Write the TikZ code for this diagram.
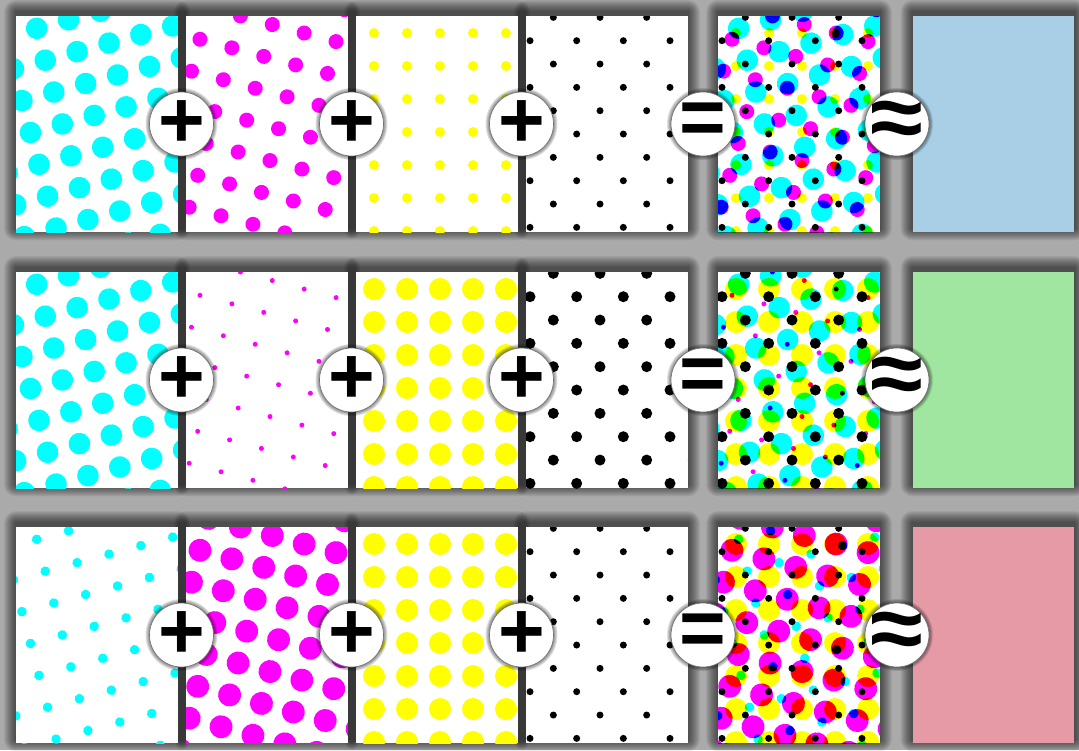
\documentclass[tikz,border=0pt]{standalone}
\usepackage{fontspec}
\newfontfamily\signfont{Liberation Sans}
\usetikzlibrary{positioning}

\pgfdeclarelayer{paper}
\pgfdeclarelayer{shade}
\pgfdeclarelayer{front}
\pgfsetlayers{paper,shade,main,front}

\definecolor{bggray}{HTML}{AAAAAA}
\definecolor{inkC}{HTML}{00FFFF}
\definecolor{inkM}{HTML}{FF00FF}
\definecolor{inkY}{HTML}{FFFF00}
\definecolor{inkK}{HTML}{000000}
\definecolor{toneblue}{HTML}{A8CFE5}
\definecolor{tonegreen}{HTML}{A1E6A0}
\definecolor{tonered}{HTML}{E59AA6}

\tikzset{
    panel/.style = {fill=white, minimum width=161.5pt, minimum height=216pt,
        inner sep=0pt, anchor=north west},
    sign/.style = {circle, fill=white, draw=black!55, line width=0.7pt,
        minimum size=64pt, inner sep=-8pt,
        font=\signfont\bfseries\fontsize{80}{80}\selectfont},
    shadestep/.style = {fill=black, opacity=0.06},
}

% dot screen clipped to a panel: node, angle, x/y offset, radius, colour
\newcommand{\screen}[6]{%
    \begin{scope}
        \clip (#1.north west) rectangle (#1.south east);
        \begin{scope}[shift={(#1.north west)}, shift={(#3,#4)}, rotate=#2]
            \foreach \i in {-5,...,9}
                \foreach \j in {-2,...,9}
                    \fill[#6] (33*\i,33*\j) circle[radius=#5pt];
        \end{scope}
    \end{scope}}

% soft shadow round a panel
\newcommand{\panelshade}[1]{%
    \foreach \k in {1,...,12}
        \fill[shadestep, rounded corners=\k pt]
            ([shift={(-\k,-\k-4)}]#1.north west) rectangle ([shift={(\k,\k-4)}]#1.south east);}

% thin halo round a sign
\newcommand{\signshade}[1]{%
    \foreach \k in {1,...,4}
        \fill[black, opacity=0.12] (#1.center) circle[radius=32pt+\k pt];}

\begin{document}
\begin{tikzpicture}[x=1pt, y=-1pt]
    \useasboundingbox (0,0) rectangle (1079,750);
    \begin{pgfonlayer}{paper}
        \fill[bggray] (0,0) rectangle (1079,750);
    \end{pgfonlayer}

    \foreach \r/\yy/\rc/\rm/\ry/\rk/\tone in {
            1/16/10.8/7.5/5/3.5/toneblue,
            2/272/10.8/2.5/11/5.5/tonegreen,
            3/527/4.8/11.5/11/3.5/tonered} {
        \node[panel] (c\r) at (16,\yy) {};
        \node[panel] (m\r) at (186,\yy) {};
        \node[panel] (y\r) at (356,\yy) {};
        \node[panel] (k\r) at (526,\yy) {};
        \node[panel] (mix\r) at (718,\yy) {};
        \node[panel, fill=\tone] (tone\r) at (912.5,\yy) {};

        \begin{pgfonlayer}{shade}
            \foreach \p in {c\r, m\r, y\r, k\r, mix\r, tone\r} {\panelshade{\p}}
        \end{pgfonlayer}

        \screen{c\r}{15}{20.7}{12.3}{\rc}{inkC}
        \screen{m\r}{-15}{14}{23.3}{\rm}{inkM}
        \screen{y\r}{0}{18}{17}{\ry}{inkY}
        \screen{k\r}{45}{4}{24.7}{\rk}{inkK}

        % overprint of the four screens
        \begin{scope}[blend mode=multiply]
            \screen{mix\r}{15}{20.7}{12.3}{\rc}{inkC}
            \screen{mix\r}{-15}{14}{23.3}{\rm}{inkM}
            \screen{mix\r}{0}{18}{17}{\ry}{inkY}
            \screen{mix\r}{45}{4}{24.7}{\rk}{inkK}
        \end{scope}

        \begin{pgfonlayer}{front}
            \node[sign] (plusa\r) at (181.5,\yy+108) {+};
            \node[sign] (plusb\r) at (351.5,\yy+108) {+};
            \node[sign] (plusc\r) at (521.5,\yy+108) {+};
            \node[sign] (equal\r) at (703,\yy+108) {=};
            \node[sign] (approx\r) at (897,\yy+108) {\scalebox{1.2}[1.1]{≈}};
        \end{pgfonlayer}

        \foreach \s in {plusa\r, plusb\r, plusc\r, equal\r, approx\r} {\signshade{\s}}
    }
\end{tikzpicture}
\end{document}
